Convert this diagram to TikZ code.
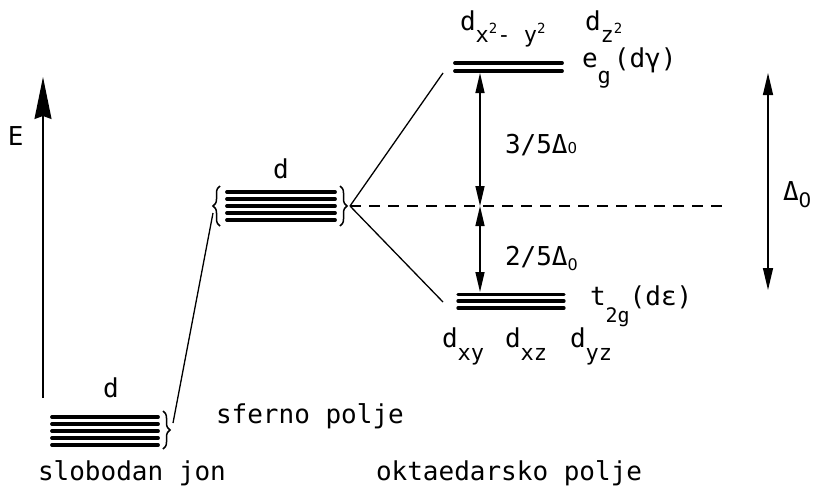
\documentclass[tikz,border=0pt]{standalone}
\usepackage{fontspec}
\setmainfont{DejaVu Sans Mono}
\newfontfamily\zf{DejaVu Sans}
\usetikzlibrary{arrows.meta,decorations.pathreplacing}
\newcommand\mainf{\fontsize{26}{30}\selectfont}
\newcommand\lowt[2]{\raisebox{#1}{\fontsize{22}{24}\selectfont #2}}
\newcommand\supt[1]{\raisebox{9pt}{\fontsize{14}{15}\selectfont #1}}
\begin{document}
\begin{tikzpicture}[x=1pt,y=-1pt,
  every node/.style={inner sep=0pt,outer sep=0pt,anchor=base west,font=\mainf},
  lvl/.style={line width=3.8pt,line cap=round},
  conn/.style={line width=1.3pt},
  brc/.style={line width=1.5pt,decorate,decoration={brace,amplitude=7pt}},
  dbl/.style={line width=1.4pt,{Triangle[length=20pt,width=9pt]}-{Triangle[length=20pt,width=9pt]}},
  dbr/.style={line width=1.4pt,{Triangle[length=22pt,width=10pt]}-{Triangle[length=22pt,width=10pt]}}]
\useasboundingbox (0,0) rectangle (818,488);
% energy axis
\coordinate (eBot) at (43,398);
\coordinate (eTop) at (43,77);
\draw[line width=1.3pt,-{Stealth[length=42pt,width=17pt,inset=3pt]}] (eBot) -- (eTop);
\node (E) at (8,145) {E};
% free ion
\foreach \y in {417,424,431,438,445} \draw[lvl] (52,\y) -- (158,\y);
\draw[brc] (163,411) -- (163,449);
\node (dfree) at (103,397) {d};
% spherical field
\foreach \y in {192,199,206,213,220} \draw[lvl] (227,\y) -- (335,\y);
\draw[brc] (220,226) -- (220,186);
\draw[brc] (340,186) -- (340,226);
\node (dsph) at (273,178) {d};
% octahedral levels
\foreach \y in {63,71} \draw[lvl] (455,\y) -- (562,\y);
\foreach \y in {294.5,301,308} \draw[line width=3.3pt,line cap=round] (458,\y) -- (564,\y);
% connectors
\coordinate (fiT) at (173,423);
\coordinate (spL) at (213,213);
\coordinate (spR) at (350,206);
\coordinate (egL) at (443,73);
\coordinate (t2L) at (443,302);
\coordinate (dashEnd) at (722,206);
\draw[conn] (fiT) -- (spL);
\draw[conn] (spR) -- (egL);
\draw[conn] (spR) -- (t2L);
\draw[line width=1.2pt,dash pattern=on 11pt off 8pt] (spR) -- (dashEnd);
% splitting arrows
\coordinate (egA) at (480,73);
\coordinate (midA) at (480,206);
\coordinate (t2A) at (480,292);
\draw[dbl] (egA) -- (midA);
\draw[dbl] (midA) -- (t2A);
\coordinate (rTop) at (768,73);
\coordinate (rBot) at (768,290);
\draw[dbr] (rTop) -- (rBot);
% labels
\node (l35) at (505,153) {3/5Δ{\zf\fontsize{15}{16}\selectfont 0}};
\node (l25) at (505,265) {2/5Δ\raisebox{-5pt}{\zf\fontsize{16}{17}\selectfont 0}};
\node (ld) at (783,200) {Δ\raisebox{-7pt}{\zf\fontsize{20}{21}\selectfont 0}};
\node (dx2) at (460,30) {d\lowt{-12pt}{x\supt{2}- y\supt{2}}};
\node (dz2) at (585,30) {d\lowt{-12pt}{z\supt{2}}};
\node (eg) at (582,67) {e\lowt{-16pt}{g}\hspace{3pt}(dγ)};
\node (t2g) at (590,305) {t\raisebox{-17pt}{\fontsize{20}{21}\selectfont 2g}(dε)};
\node (dxy) at (442,347) {d\lowt{-13pt}{xy}};
\node (dxz) at (505,347) {d\lowt{-13pt}{xz}};
\node (dyz) at (570,347) {d\lowt{-13pt}{yz}};
\node (sf) at (216,423) {sferno polje};
\node (sj) at (38,480) {slobodan jon};
\node (op) at (376,480) {oktaedarsko polje};
\end{tikzpicture}
\end{document}
